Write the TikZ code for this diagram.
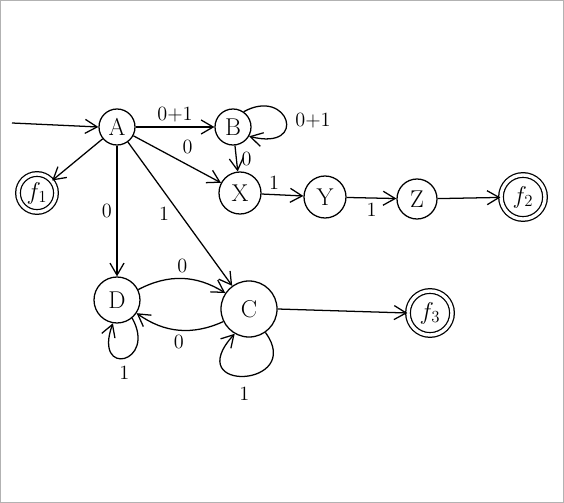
\documentclass[tikz,border=0pt]{standalone}
\usetikzlibrary{arrows.meta,positioning}
\begin{document}
\begin{tikzpicture}[
    x=0.025cm, y=-0.025cm,
    stnode/.style={circle, draw, line width=0.9pt, minimum size=0.9cm,
                   inner sep=0pt, font=\LARGE},
    accept/.style={stnode, double, double distance=2.4pt},
    arrow/.style={-{Straight Barb[length=3mm, width=3.5mm]}, line width=0.9pt},
]
    \useasboundingbox (0,0) rectangle (564,503);
    \draw[gray!60] (0.5,0.5) rectangle (563.5,502.5);
    % states
    \node[stnode] (A) at (117,127) {A};
    \node[stnode] (B) at (233,127) {B};
    \node[stnode, minimum size=1.05cm] (X) at (240,193) {X};
    \node[stnode, minimum size=1.05cm] (Y) at (325,197) {Y};
    \node[stnode, minimum size=1.0cm] (Z) at (417,199) {Z};
    \node[accept, minimum size=0.95cm] (F1) at (37,193) {$f_1$};
    \node[accept, minimum size=1.1cm] (F2) at (523,197) {$f_2$};
    \node[stnode, minimum size=1.15cm] (D) at (117,300) {D};
    \node[stnode, minimum size=1.4cm] (C) at (249,309) {C};
    \node[accept, minimum size=1.1cm] (F3) at (430,313) {$f_3$};
    \coordinate (start) at (12,123);
    % transitions
    \begin{scope}[every node/.style={font=\Large}]
    \draw[arrow] (start) -- (A.west);
    \draw[arrow] (A) -- node[above] {0+1} (B);
    \draw[arrow] (B.55) .. controls +(45,-25) and +(60,15) .. node[right=3pt] {0+1} (B.-30);
    \draw[arrow] (B) -- node[right] {0} (X);
    \draw[arrow] (A) -- node[above right] {0} (X);
    \draw[arrow] (A) -- (F1);
    \draw[arrow] (X) -- node[pos=0.3, above] {1} (Y);
    \draw[arrow] (Y) -- node[below] {1} (Z);
    \draw[arrow] (Z) -- (F2);
    \draw[arrow] (A) -- node[left] {0} (D);
    \draw[arrow] (A) -- node[left=4pt] {1} (C);
    \draw[arrow] (D) to[bend left=30] node[above] {0} (C);
    \draw[arrow] (C) to[bend left=30] node[below] {0} (D);
    \draw[arrow] (D.-50) .. controls +(25,45) and +(-20,55) .. node[below=2pt] {1} (D.-100);
    \draw[arrow] (C.-55) .. controls +(40,55) and +(-55,60) .. node[below=4pt] {1} (C.-120);
    \draw[arrow] (C.east) -- (F3.west);
    \end{scope}
\end{tikzpicture}
\end{document}
